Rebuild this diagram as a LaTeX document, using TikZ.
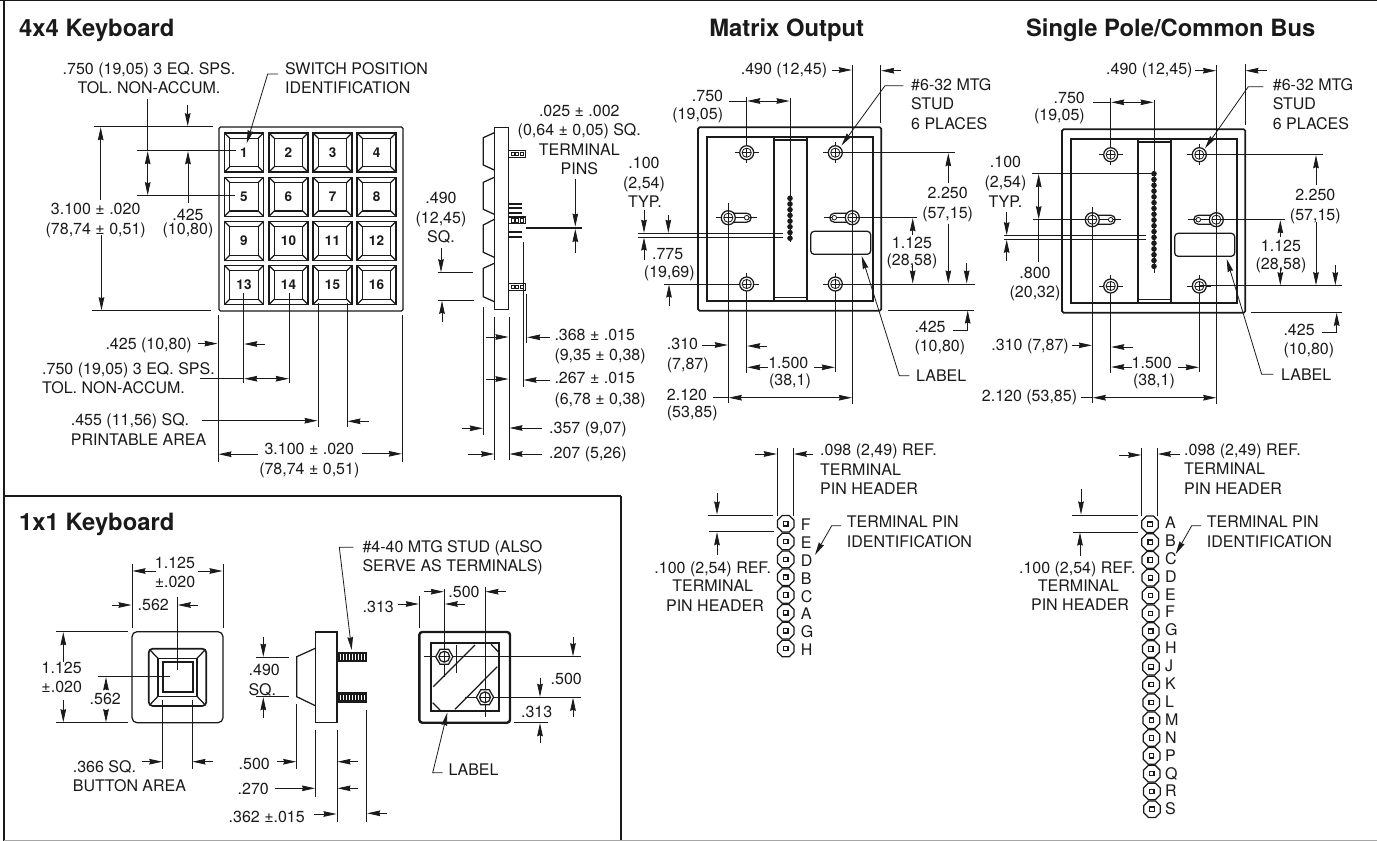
\documentclass[tikz,border=0pt]{standalone}
\usepackage{fontspec}
\setmainfont{TeX Gyre Heros}
\usetikzlibrary{arrows.meta}
\newcounter{tn}
\definecolor{ink}{HTML}{1A1A1A}
\tikzset{
  dim/.style={draw=ink,line width=0.8pt},
  arw/.style={dim,-{Stealth[length=13pt,width=5.6pt,inset=1pt]}},
  arww/.style={dim,{Stealth[length=13pt,width=5.6pt,inset=1pt]}-{Stealth[length=13pt,width=5.6pt,inset=1pt]}},
  part/.style={draw=ink,line width=1.25pt},
  heavy/.style={draw=ink,line width=1.7pt},
  tx/.style={inner sep=0pt,text=ink,font=\fontsize{16pt}{18pt}\selectfont},
  ttl/.style={inner sep=0pt,text=ink,font=\fontsize{23.8pt}{26pt}\selectfont\bfseries},
  keyn/.style={inner sep=0pt,text=ink,font=\fontsize{13.5pt}{15pt}\selectfont\bfseries},
  frameline/.style={draw=ink,line width=2.4pt}
}
\def\Tc(#1,#2)#3{\stepcounter{tn}\node[tx,anchor=base] (t\arabic{tn}) at (#1,{#2+5.7}) {#3};}
\def\Tl(#1,#2)#3{\stepcounter{tn}\node[tx,anchor=base west] (t\arabic{tn}) at (#1,{#2+5.7}) {#3};}
\def\Tr(#1,#2)#3{\stepcounter{tn}\node[tx,anchor=base east] (t\arabic{tn}) at (#1,{#2+5.7}) {#3};}
\def\Title(#1,#2)#3{\stepcounter{tn}\node[ttl,anchor=base west] (t\arabic{tn}) at (#1,{#2+8.4}) {#3};}
\def\TitleC(#1,#2)#3{\stepcounter{tn}\node[ttl,anchor=base] (t\arabic{tn}) at (#1,{#2+8.4}) {#3};}
\def\Ln(#1)(#2){\draw[dim] (#1)--(#2);}
\def\Ar(#1)(#2){\draw[arw] (#1)--(#2);}
\def\AA(#1)(#2){\draw[arww] (#1)--(#2);}
% one key of the 4x4 pad
\newcommand{\keycap}[3]{%
  \draw[part] (#1,#2) rectangle ++(39,39);
  \draw[part] ({#1+5.3},{#2+5.3}) rectangle ++(28.4,28.4);
  \draw[part] (#1,#2)--++(5.3,5.3) ({#1+39},#2)--++(-5.3,5.3) (#1,{#2+39})--++(5.3,-5.3) ({#1+39},{#2+39})--++(-5.3,-5.3);
  \stepcounter{tn}\node[keyn] (t\arabic{tn}) at ({#1+19.5},{#2+19.5}) {#3};}
% mounting stud seen from behind
\newcommand{\stud}[2]{%
  \draw[part,fill=white] (#1,#2) circle[radius=7];
  \draw[dim] (#1,#2) circle[radius=4.6];
  \draw[dim] ({#1-4.6},#2)--({#1+4.6},#2) (#1,{#2-4.6})--(#1,{#2+4.6});}
\newcommand{\hexstud}[2]{%
  \draw[part,fill=white] (#1,#2) +(0:8.6)--+(60:8.6)--+(120:8.6)--+(180:8.6)--+(240:8.6)--+(300:8.6)--cycle;
  \draw[part] (#1,#2) circle[radius=5.4];
  \draw[dim] ({#1-5},#2)--({#1+5},#2) (#1,{#2-5})--(#1,{#2+5});}
% terminal header pin
\newcommand{\hpin}[2]{%
  \draw[part] (#1,#2) +(22.5:9)--+(67.5:9)--+(112.5:9)--+(157.5:9)--+(202.5:9)--+(247.5:9)--+(292.5:9)--+(337.5:9)--cycle;
  \draw[part] ({#1-2.2},{#2-2.2}) rectangle ++(4.4,4.4);}
% side pin block
\newcommand{\sidepin}[1]{%
  \draw[draw=ink,line width=1.4pt,fill=white] (508.3,#1) rectangle (525.7,{#1+6.6});
  \foreach \q in {511,515.5,520}{\draw[draw=ink,line width=1pt,fill=white] (\q,{#1+1.6}) rectangle ++(3,3.4);}}
% thread
\newcommand{\thread}[1]{%
  \fill[ink] (337,#1) rectangle (367,{#1+10.6});
  \foreach \q in {340,343,...,366}{\draw[white,line width=0.35pt] (\q,{#1+2.5}) -- (\q,{#1+8});}}
% common back view of the output panels
\newcommand{\panel}[2]{%
  \begin{scope}[shift={(#1,#2)}]
  \draw[heavy,rounded corners=1.5pt] (698,127.3) rectangle (881.3,310.7);
  \draw[heavy] (707,136.7) rectangle (872.7,301);
  \draw[heavy] (773.7,136.7)--(773.7,301) (807.3,136.7)--(807.3,301);
  \draw[part] (773.7,140)--(807.3,140) (773.7,297.3)--(807.3,297.3);
  \draw[part,rounded corners=3.5pt] (810.7,231.3) rectangle (870.7,254.3);
  % centre lines
  \draw[dim] (734.7,152.7)--(758.7,152.7) (746.7,140)--(746.7,163.4);
  \draw[dim] (823.3,152.7)--(855,152.7) (835.3,142)--(835.3,163.4);
  \draw[dim] (734.7,284)--(759,284) (746.7,273.3)--(746.7,295);
  \draw[dim] (823.3,284)--(847.3,284) (835.3,273.3)--(835.3,295);
  \draw[dim] (757.3,217.7)--(715.7,217.7) (824,217.7)--(852.3,217.7);
  % slots
  \draw[part] (728.3,213.2)--(746.7,213.2) arc[start angle=-90,end angle=90,radius=4.5] --(728.3,222.2);
  \draw[part] (852.3,213.2)--(834.3,213.2) arc[start angle=-90,end angle=-270,radius=4.5] --(852.3,222.2);
  \draw[dim,fill=white] (746.7,217.7) circle[radius=2.3] (834.3,217.7) circle[radius=2.3];
  \stud{746.7}{152.7}\stud{835.3}{152.7}\stud{746.7}{284}\stud{835.3}{284}
  \stud{728.3}{217.7}\stud{852.3}{217.7}
  \end{scope}}
\begin{document}
\begin{tikzpicture}[x=1pt,y=-1pt,line join=miter]
\useasboundingbox (0,0) rectangle (1377,841);
\fill[white] (0,0) rectangle (1377,841);
% frame
\draw[frameline] (4,0.6)--(4,841);
\draw[draw=ink,line width=1.6pt] (0,0.6)--(1377,0.6);
\draw[frameline] (4,496)--(621,496) (621,496)--(621,841);
\draw[draw=black!35,line width=1pt] (4,840.4)--(1377,840.4);
% titles
\Title(19,28){4x4 Keyboard}
\TitleC(786.7,28){Matrix Output}
\TitleC(1170.7,28){Single Pole/Common Bus}
\Title(19,521.7){1x1 Keyboard}
% ---------- 4x4 front
\draw[part,rounded corners=1.5pt] (219,127) rectangle (403,311);
\foreach \kx/\ky/\kn in {224.5/133/1,269/133/2,313/133/3,357/133/4,224.5/177.3/5,269/177.3/6,313/177.3/7,357/177.3/8,224.5/221.5/9,269/221.5/10,313/221.5/11,357/221.5/12,224.5/265.5/13,269/265.5/14,313/265.5/15,357/265.5/16}{\keycap{\kx}{\ky}{\kn}}
\Tc(149,68.3){.750 (19,05) 3 EQ. SPS.}
\Tc(149,87.7){TOL. NON-ACCUM.}
\Tl(285,68.3){SWITCH POSITION}
\Tl(285,87.7){IDENTIFICATION}
\draw[arw] (278,74)--(267.7,74)--(246.7,143.3);
\Ln(94.3,126.7)(213,126.7)
\Ar(187.7,105)(187.7,126.2)
\Ar(100.7,200)(100.7,127.2)
\Ar(101.5,235)(101.5,310.2)
\Ln(92,310.7)(211,310.7)
\Ln(136.7,150.7)(236,150.7)
\Ln(136.7,195.7)(235,195.7)
\Ln(147.7,99.3)(147.7,150.7)
\AA(147.7,151.2)(147.7,195.2)
\Ar(188,203)(188,151.2)
\Tc(188,215){.425}
\Tc(188,229){(10,80)}
\Tc(95.7,209){3.100 ± .020}
\Tc(95.7,229){(78,74 ± 0,51)}
\Ln(218,315)(218,462.3)
\Ln(402.3,315)(402.3,462.3)
\Ln(243.7,293.3)(243.7,383.3)
\Ln(289.3,293.3)(289.3,383.3)
\Ln(318,303)(318,427.3)
\Ln(347,303)(347,427.3)
\Tr(192,343.3){.425 (10,80)}
\Ar(198,343.6)(217.5,343.6)
\Ar(265,344)(244.2,344)
\Tl(42,368.7){.750 (19,05) 3 EQ. SPS.}
\Tl(42,387.7){TOL. NON-ACCUM.}
\Ln(200,378.7)(243.7,378.7)
\AA(244.2,378.7)(288.8,378.7)
\Tl(70.7,420){.455 (11,56) SQ.}
\Tl(70.7,439.3){PRINTABLE AREA}
\Ar(202.3,420.7)(317.5,420.7)
\Ar(369,421.3)(347.5,421.3)
\Tc(309.3,448.7){3.100 ± .020}
\Tc(309.3,468.3){(78,74 ± 0,51)}
\Ar(258.3,454.2)(218.5,454.2)
\Ar(362.3,453.8)(401.8,453.8)
% ---------- 4x4 side
\draw[part,fill=white] (494.3,127.3) rectangle (508.3,309.3);
\draw[part] (494.3,132.7)--(483.3,137.7)--(483.3,165)--(494.3,170);
\draw[part] (494.3,177.3)--(483.3,182.3)--(483.3,209.3)--(494.3,214.3);
\draw[part] (494.3,219.3)--(483.3,225)--(483.3,252.3)--(494.3,257.3);
\draw[part] (494.3,263.3)--(483.3,268.3)--(483.3,296.7)--(494.3,301.7);
\foreach \by in {203.7,208.3,213,232.3,236.7}{\draw[draw=ink,line width=1.9pt] (508.3,\by)--(522,\by);}
\sidepin{150.7}\sidepin{217}\sidepin{283.7}
\Ln(526,227)(581.7,227)
\Ln(526,228.6)(581.7,228.6)
\Ar(575.3,179.3)(575.3,226.6)
\Ar(575.3,253.3)(575.3,229)
\Tc(579.3,110.7){.025 ± .002}
\Tc(579.3,130){(0,64 ± 0,05) SQ.}
\Tc(579.3,149.3){TERMINAL}
\Tc(579.3,168.7){PINS}
\Tc(441,197.7){.490}
\Tc(441,217.3){(12,45)}
\Tc(441,237){SQ.}
\Ar(441,248.3)(441,272.2)
\Ln(437.7,272.7)(472.7,272.7)
\Ln(438.3,300.3)(473.7,300.3)
\Ar(442,322.3)(442,300.8)
\Ln(483.3,307.3)(483.3,434.7)
\Ln(494.7,316.7)(494.7,460)
\Ln(509,316.7)(509,460)
\Ln(526.7,294.3)(526.7,343.3)
\Ln(523,241.7)(523,386.7)
\Ar(485.7,337)(508.5,337)
\Ar(485.7,379)(508.5,379)
\Ar(550,337.3)(527.2,337.3)
\Ar(550,380)(523.5,380)
\Ar(462.3,428.3)(482.8,428.3)
\Ar(542.3,428)(509.5,428)
\Ar(468.3,454)(494.2,454)
\Ar(541.7,454)(509.5,454)
\Tl(554.3,335){.368 ± .015}
\Tl(554.3,355){(9,35 ± 0,38)}
\Tl(554.3,377.7){.267 ± .015}
\Tl(554.3,398.3){(6,78 ± 0,38)}
\Tl(549,427.3){.357 (9,07)}
\Tl(549,452.3){.207 (5,26)}
% ---------- Matrix output
\panel{0}{0}
\foreach \py in {198.3,204,209.7,215.4,221.1,226.8,232.5,238.2}{\fill[ink] (790,\py) circle[radius=2.8];}
\Ln(790,98.3)(790,241.7)
\Ln(746.7,97.3)(746.7,142)
\Ln(746.7,295)(746.7,373.3)
\Ln(835.3,295)(835.3,372)
\Ln(729.3,101)(746.7,101)
\AA(747.2,101)(789.5,101)
\Tr(723.3,96){.750}
\Tr(723.3,113.3){(19,05)}
\Tr(827.3,69){.490 (12,45)}
\Ar(832.3,70)(851.8,70)
\Ln(852.3,65)(852.3,404)
\Ln(880.7,65)(880.7,122.7)
\Ar(900.7,70.7)(881.2,70.7)
\Tl(911,84.3){\#6-32 MTG}
\Tl(911,103.3){STUD}
\Tl(911,123.3){6 PLACES}
\draw[arw] (903.3,85.7)--(885,85.7)--(841.5,145.5);
\Ln(835.3,152.7)(955,152.7)
\Ar(948.3,183.3)(948.3,153.2)
\Tc(947.7,192.7){2.250}
\Tc(947.7,212.7){(57,15)}
\Ar(948.3,224)(948.3,283.5)
\Ln(852.3,217.7)(916.7,217.7)
\Ar(912.7,235)(912.7,218.2)
\Tc(912,242.7){1.125}
\Tc(912,259.3){(28,58)}
\Ar(912.7,265)(912.7,283.5)
\Ln(835.3,284)(975,284)
\Ar(966.7,263.3)(966.7,283.5)
\Ln(888.3,310)(974,310)
\draw[arw] (953.3,330)--(967.7,330)--(967.7,310.5);
\Tl(914.3,326.7){.425}
\Tl(914.3,346){(10,80)}
\draw[arw] (909.3,375.7)--(899.3,375.7)--(861.7,256);
\Tl(916,375.7){LABEL}
\Ln(728.3,203.3)(728.3,403.3)
\Ln(638.3,233.3)(782.7,233.3)
\Ln(638.3,237)(782.7,237)
\Ln(664,284)(740,284)
\Ar(644,210)(644,232.8)
\Ar(644,260)(644,237.5)
\Ar(668.3,215)(668.3,232.8)
\Ar(669,306)(669,284.5)
\Tc(667.7,253.3){.775}
\Tc(669.3,271.7){(19,69)}
\Tc(644,162.7){.100}
\Tc(644,182.3){(2,54)}
\Tc(645,201.7){TYP.}
\Tl(666.7,344){.310}
\Tl(666.7,363.3){(7,87)}
\Ar(702.3,345)(727.8,345)
\Ar(767.3,346)(747.2,346)
\Tc(788.3,362.7){1.500}
\Tc(790,380){(38,1)}
\Ar(768.3,367.3)(747.2,367.3)
\Ar(814.3,367.3)(834.8,367.3)
\Tl(666.7,395){2.120}
\Tl(666.7,411.7){(53,85)}
\Ln(712.7,397.7)(728.3,397.7)
\AA(728.8,397.7)(851.8,397.7)
% ---------- Single pole
\panel{364}{2}
\foreach \pn in {0,...,16}{\fill[ink] (1154,{173.7+\pn*5.79}) circle[radius=2.8];}
\Ln(1154,100)(1154,272.7)
\Ln(1110.7,98.3)(1110.7,144)
\Ln(1110.7,297)(1110.7,373.3)
\Ln(1199.3,297)(1199.3,371.7)
\Ln(1093.3,102.3)(1110.7,102.3)
\AA(1111.2,102.3)(1153.5,102.3)
\Tr(1085,97.7){.750}
\Tr(1085,115){(19,05)}
\Tr(1192.7,69){.490 (12,45)}
\Ar(1195,70.7)(1216,70.7)
\Ln(1216.7,65)(1216.7,404)
\Ln(1245,64)(1245,125)
\Ar(1266.7,70.7)(1245.5,70.7)
\Tl(1272.7,84.3){\#6-32 MTG}
\Tl(1272.7,104){STUD}
\Tl(1272.7,123.3){6 PLACES}
\draw[arw] (1263.3,86.7)--(1248.3,86.7)--(1205,148.3);
\Ln(1199.3,154.7)(1322.7,154.7)
\Ar(1316,185)(1316,155.2)
\Tc(1315.3,195){2.250}
\Tc(1315.3,215){(57,15)}
\Ar(1316,221.7)(1316,285.2)
\Ln(1216.7,219.7)(1285,219.7)
\Ar(1280.3,236.7)(1280.3,220.2)
\Tc(1281,246){1.125}
\Tc(1281,263.3){(28,58)}
\Ar(1280.3,268.3)(1280.3,285.2)
\Ln(1199.3,285.7)(1341.7,285.7)
\Ar(1335.3,265)(1335.3,285.2)
\Ln(1251,312.3)(1342.3,312.3)
\draw[arw] (1322.3,332)--(1336.7,332)--(1336.7,312.8);
\Tl(1283.3,330){.425}
\Tl(1283.3,348.3){(10,80)}
\draw[arw] (1273.3,374.3)--(1261.7,374.3)--(1226.7,259);
\Tl(1281,374.3){LABEL}
\Ln(1092.3,206.7)(1092.3,403.3)
\Ln(1004,235.7)(1145.7,235.7)
\Ln(1004,239.3)(1145.7,239.3)
\Ar(1006.7,211.7)(1006.7,235.2)
\Ar(1006.7,260.7)(1006.7,239.8)
\Tc(1005.5,161.7){.100}
\Tc(1005.5,181.3){(2,54)}
\Tc(1005.5,201.7){TYP.}
\Ln(1032.3,173.7)(1151.7,173.7)
\Ln(1033.3,219.7)(1092.3,219.7)
\AA(1038.7,174.2)(1038.7,219.2)
\Ln(1038.7,219.7)(1038.7,261.7)
\Tc(1035,272.7){.800}
\Tc(1035,291.7){(20,32)}
\Tr(1069,344.3){.310 (7,87)}
\Ar(1071.7,345.3)(1091.8,345.3)
\Ar(1132.7,347)(1111.2,347)
\Tc(1151.7,362.7){1.500}
\Tc(1154,379.3){(38,1)}
\Ar(1131.7,367)(1111.2,367)
\Ar(1178.3,367.3)(1198.8,367.3)
\Tr(1077.3,395.7){2.120 (53,85)}
\Ln(1081,397.7)(1092.3,397.7)
\AA(1092.8,397.7)(1216.2,397.7)
% ---------- Matrix header
\foreach \hn/\hl in {0/F,1/E,2/D,3/B,4/C,5/A,6/G,7/H}{
  \hpin{785.7}{523.7+\hn*17.83}
  \Tl(800.7,{525+\hn*17.83}){\hl}}
\Ln(777.3,448.3)(777.3,516)
\Ln(793.3,448.3)(793.3,516)
\Ar(755,454)(776.8,454)
\Ar(813.3,454)(793.8,454)
\Tl(820,450){.098 (2,49) REF.}
\Tl(820,469.3){TERMINAL}
\Tl(820,489){PIN HEADER}
\Ln(708.3,515)(773.3,515)
\Ln(709.3,531.7)(774,531.7)
\Ar(717,493.3)(717,514.5)
\Ar(717,555)(717,532.2)
\Tc(712.7,567.7){.100 (2,54) REF.}
\Tc(712.7,586){TERMINAL}
\Tc(715,605.7){PIN HEADER}
\Tl(846.7,521.7){TERMINAL PIN}
\Tl(846.7,541.7){IDENTIFICATION}
\draw[arw] (841,525.7)--(831.7,525.7)--(815,555);
% ---------- Single pole header
\foreach \hn/\hl in {0/A,1/B,2/C,3/D,4/E,5/F,6/G,7/H,8/J,9/K,10/L,11/M,12/N,13/P,14/Q,15/R,16/S}{
  \hpin{1150+\hn*0.125}{524.3+\hn*17.81}
  \Tl(1165,{522.7+\hn*17.9}){\hl}}
\Ln(1141.7,448.3)(1141.7,516)
\Ln(1157.3,448.3)(1157.3,516)
\Ar(1119.3,455)(1141.2,455)
\Ar(1180,454)(1157.8,454)
\Tl(1184,450){.098 (2,49) REF.}
\Tl(1184,468.3){TERMINAL}
\Tl(1184,488.3){PIN HEADER}
\Ln(1072,515)(1138.3,515)
\Ln(1073.3,532)(1138.3,532)
\Ar(1081,489.3)(1081,514.5)
\Ar(1080,556)(1080,532.5)
\Tc(1077.3,567.3){.100 (2,54) REF.}
\Tc(1078.3,585.7){TERMINAL}
\Tc(1080,604.3){PIN HEADER}
\Tl(1206.7,521.7){TERMINAL PIN}
\Tl(1206.7,541.7){IDENTIFICATION}
\draw[arw] (1201,525.7)--(1191.7,525.7)--(1175.7,554);
% ---------- 1x1 front
\draw[part,rounded corners=5pt] (132,631.7) rectangle (223,722.7);
\draw[heavy,rounded corners=4pt] (148.7,648.7) rectangle (206.3,706);
\draw[part] (158,658.3) rectangle (197,696.3);
\draw[heavy] (162.7,662) rectangle (193,692.3);
\draw[part] (150,650)--(158,658.3) (205,650)--(197,658.3) (150,704.7)--(158,696.3) (205,704.7)--(197,696.3);
\Ln(132,564)(132,627.7)
\Ln(223,564)(223,627.7)
\Tc(175,562.7){1.125}
\Tc(175,581.7){±.020}
\Ar(155.7,571)(132.5,571)
\Ar(198.3,571)(222.5,571)
\Tc(153.3,605){.562}
\Ar(111.7,605)(131.5,605)
\Ar(198.3,605)(177.8,605)
\Ln(177.3,597.3)(177.3,670)
\Ln(56,631.7)(128.3,631.7)
\Ln(56,722.7)(128.3,722.7)
\Ar(63.3,661.7)(63.3,632.2)
\Ar(63.3,700)(63.3,722.2)
\Tc(61.7,667.7){1.125}
\Tc(61.7,686.7){±.020}
\Ln(98.3,676.7)(170,676.7)
\Ar(106,690)(106,677.2)
\Ar(106,710)(106,722.2)
\Tc(105.3,699){.562}
\Ln(162.7,700)(162.7,769.3)
\Ln(192,700)(192,769.3)
\Tl(72.7,766.7){.366 SQ.}
\Tl(72.7,785.7){BUTTON AREA}
\Ar(142.3,761.7)(162.2,761.7)
\Ar(213.3,761.7)(192.5,761.7)
% ---------- 1x1 side
\draw[part] (315.3,632) rectangle (337,722.7);
\draw[part] (315.3,648.3)--(296.7,656.7)--(296.7,696.7)--(315.3,705.7);
\thread{651.7}\thread{692.3}
\draw[arw] (353.3,547.3)--(339.3,547.3)--(351.7,650);
\Tl(362.3,546.7){\#4-40 MTG STUD (ALSO}
\Tl(362.3,566){SERVE AS TERMINALS)}
\Ar(263.3,636.7)(263.3,656.8)
\Ln(256,657.3)(289.3,657.3)
\Ln(256,696.7)(289.3,696.7)
\Ar(263.3,717.7)(263.3,697.2)
\Tc(264.3,670){.490}
\Tc(262.3,689.3){SQ.}
\Ln(296.7,704)(296.7,769.3)
\Ln(315.5,730)(315.5,796.7)
\Ln(337,730)(337,821.7)
\Ln(366.7,710)(366.7,821.7)
\Ar(276.7,761.7)(296.2,761.7)
\Tc(254.3,764){.500}
\Ar(275,788.3)(315,788.3)
\Tc(253.3,789){.270}
\Tc(266.7,816.7){.362 ±.015}
\Ar(314,814)(336.5,814)
\Ar(357.7,761.7)(337.5,761.7)
\Ar(357.7,788.3)(337.5,788.3)
\Ar(386.7,813.3)(367.2,813.3)
% ---------- 1x1 back
\draw[draw=ink,line width=2.4pt,rounded corners=3pt] (419.3,632) rectangle (510,722.7);
\draw[draw=ink,line width=2pt] (431,643.3) rectangle (499.3,710.7);
\draw[part] (433.3,686.7)--(475,645) (455,709.3)--(497.3,666.7);
\draw[part] (432.7,702.7)--(440,710) (491,644.3)--(498.3,651.7);
\draw[part] (456.7,645)--(456.7,673);
\Ln(419.3,596)(419.3,628.3)
\Ln(444.3,589.3)(444.3,676.7)
\Ln(485,586.7)(485,717.3)
\Ln(424.3,656.7)(580.7,656.7)
\Ln(465,697.3)(580.7,697.3)
\hexstud{444.3}{656.7}
\hexstud{485}{697.3}
\Tc(378.3,606.7){.313}
\Ar(398.3,604)(418.8,604)
\Ar(465,604)(444.8,604)
\Ar(424.3,591.7)(443.8,591.7)
\Tc(464,591.7){.500}
\Ar(505.7,591.7)(485.5,591.7)
\Ar(573,636.7)(573,656.2)
\Ar(573,717.3)(573,697.8)
\Tc(566.3,679){.500}
\Ar(540,677.7)(540,696.8)
\Ar(540,742.7)(540,723.2)
\Ln(514,722.7)(548.3,722.7)
\Tc(536.7,711.7){.313}
\draw[arw] (442.7,772.7)--(432.7,772.7)--(447.3,712.7);
\Tl(448.3,770){LABEL}
\end{tikzpicture}
\end{document}
